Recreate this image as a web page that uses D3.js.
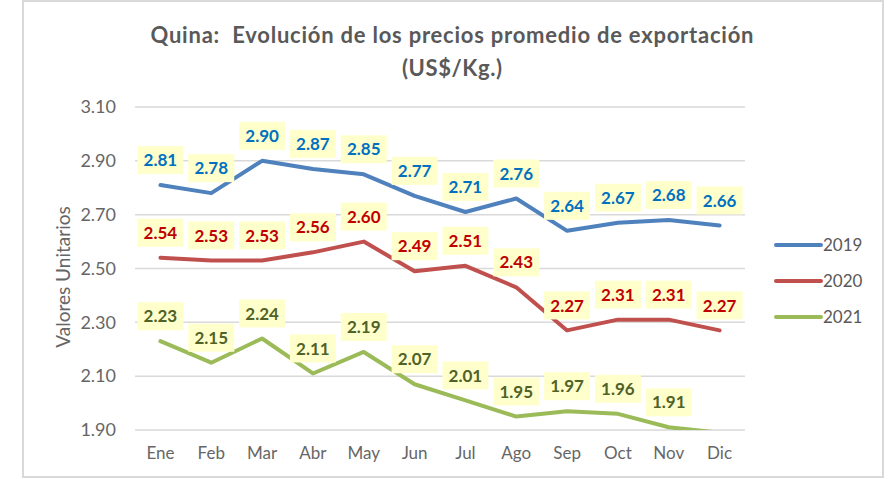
<!DOCTYPE html>
<html>
<head>
<meta charset="utf-8">
<script src="https://cdn.jsdelivr.net/npm/d3@7"></script>
<style>
    body { margin: 0; background: #fff; }
    text { font-family: Lato, "Open Sans", sans-serif; }
</style>
</head>
<body>
<script>
// months on the x axis
var months = ["Ene", "Feb", "Mar", "Abr", "May", "Jun", "Jul", "Ago", "Sep", "Oct", "Nov", "Dic"];

// export prices per year (US$/Kg.)
var years = ["2019", "2020", "2021"];
var values2019 = [2.81, 2.78, 2.90, 2.87, 2.85, 2.77, 2.71, 2.76, 2.64, 2.67, 2.68, 2.66];
var values2020 = [2.54, 2.53, 2.53, 2.56, 2.60, 2.49, 2.51, 2.43, 2.27, 2.31, 2.31, 2.27];
var values2021 = [2.23, 2.15, 2.24, 2.11, 2.19, 2.07, 2.01, 1.95, 1.97, 1.96, 1.91, 1.89];

var yTicks = [1.90, 2.10, 2.30, 2.50, 2.70, 2.90, 3.10];

var lineColors = ["#4F81BD", "#C0504D", "#9BBB59"];
var labelColors = ["#0070C0", "#C00000", "#4F6228"];

var series = [values2019, values2020, values2021].map(function(v, i) {
    return {year: years[i], values: v, line: lineColors[i], label: labelColors[i]};
});

var W = 892, H = 479;
var margin = {top: 107, left: 135, right: 147, bottom: 49};
var width = W - margin.left - margin.right,
    height = H - margin.top - margin.bottom;

var svg = d3.select("body").append("svg")
    .attr("width", W)
    .attr("height", H);

// outer frame
svg.append("rect")
    .attr("x", 23).attr("y", 1)
    .attr("width", 860).attr("height", 476)
    .attr("fill", "#fff")
    .attr("stroke", "#D9D9D9")
    .attr("stroke-width", 2);

// title
var title = svg.append("text")
    .attr("text-anchor", "middle")
    .style("font-size", "22px")
    .style("font-weight", "bold")
    .style("fill", "#595959");
title.append("tspan").attr("x", 452).attr("y", 43)
    .attr("textLength", 603).attr("lengthAdjust", "spacing")
    .text("Quina:\u00a0 Evolución de los precios promedio de exportación");
title.append("tspan").attr("x", 452).attr("y", 76)
    .attr("textLength", 100).attr("lengthAdjust", "spacing")
    .text("(US$/Kg.)");

var g = svg.append("g")
    .attr("transform", "translate(" + margin.left + "," + margin.top + ")");

var x = d3.scaleBand().domain(months).range([0, width]);
var y = d3.scaleLinear().domain([1.90, 3.10]).range([height, 0]);

// gridlines
g.selectAll(".grid")
    .data(yTicks)
    .enter().append("line")
    .attr("class", "grid")
    .attr("x1", 0).attr("x2", width)
    .attr("y1", function(d) { return y(d); })
    .attr("y2", function(d) { return y(d); })
    .attr("stroke", "#D9D9D9")
    .attr("stroke-width", 1.5);

// y axis
var yAxis = g.append("g")
    .call(d3.axisLeft(y).tickValues(yTicks).tickFormat(d3.format(".2f")).tickSize(0).tickPadding(19));
yAxis.select(".domain").remove();
yAxis.selectAll("text")
    .style("font-size", "18px")
    .style("font-family", "Lato, sans-serif")
    .style("fill", "#666");

// x axis
var xAxis = g.append("g")
    .attr("transform", "translate(0," + height + ")")
    .call(d3.axisBottom(x).tickSize(0).tickPadding(17));
xAxis.select(".domain").remove();
xAxis.selectAll("text")
    .style("font-size", "17px")
    .style("font-family", "Lato, sans-serif")
    .style("fill", "#666");

// y axis label
svg.append("text")
    .attr("transform", "translate(70,277) rotate(-90)")
    .attr("text-anchor", "middle")
    .style("font-size", "19px")
    .style("fill", "#666")
    .text("Valores Unitarios");

// clip the lines to the plot area
svg.append("clipPath").attr("id", "plotclip")
    .append("rect")
    .attr("x", 0).attr("y", -5)
    .attr("width", width).attr("height", height + 5);

var line = d3.line()
    .x(function(d, i) { return x(months[i]) + x.bandwidth() / 2; })
    .y(function(d) { return y(d); });

g.append("g").attr("clip-path", "url(#plotclip)")
    .selectAll(".line")
    .data(series)
    .enter().append("path")
    .attr("class", "line")
    .attr("d", function(d) { return line(d.values); })
    .attr("fill", "none")
    .attr("stroke", function(d) { return d.line; })
    .attr("stroke-width", 4)
    .attr("stroke-linejoin", "round")
    .attr("stroke-linecap", "round");

// data labels with yellow boxes, skipping points below the axis range
series.forEach(function(s) {
    var pts = s.values.map(function(v, i) { return {v: v, m: months[i]}; })
        .filter(function(p) { return p.v >= 1.90; });

    var lab = g.selectAll(".lab-" + s.year)
        .data(pts)
        .enter().append("g")
        .attr("transform", function(p) {
            return "translate(" + (x(p.m) + x.bandwidth() / 2) + "," + (y(p.v) - 25) + ")";
        });

    lab.append("rect")
        .attr("x", -23).attr("y", -14)
        .attr("width", 46).attr("height", 28)
        .attr("fill", "#FFFFCC");

    lab.append("text")
        .attr("text-anchor", "middle")
        .attr("dy", "0.36em")
        .style("font-size", "17px")
        .style("font-weight", "bold")
        .style("fill", s.label)
        .text(function(p) { return d3.format(".2f")(p.v); });
});

// legend
var legend = svg.selectAll(".legend")
    .data(series)
    .enter().append("g")
    .attr("class", "legend")
    .attr("transform", function(d, i) { return "translate(776," + (245 + i * 36) + ")"; });

legend.append("line")
    .attr("x1", 0).attr("x2", 45)
    .attr("stroke", function(d) { return d.line; })
    .attr("stroke-width", 4)
    .attr("stroke-linecap", "round");

legend.append("text")
    .attr("x", 47)
    .attr("dy", "0.36em")
    .style("font-size", "17px")
    .style("fill", "#595959")
    .text(function(d) { return d.year; });
</script>
</body>
</html>
